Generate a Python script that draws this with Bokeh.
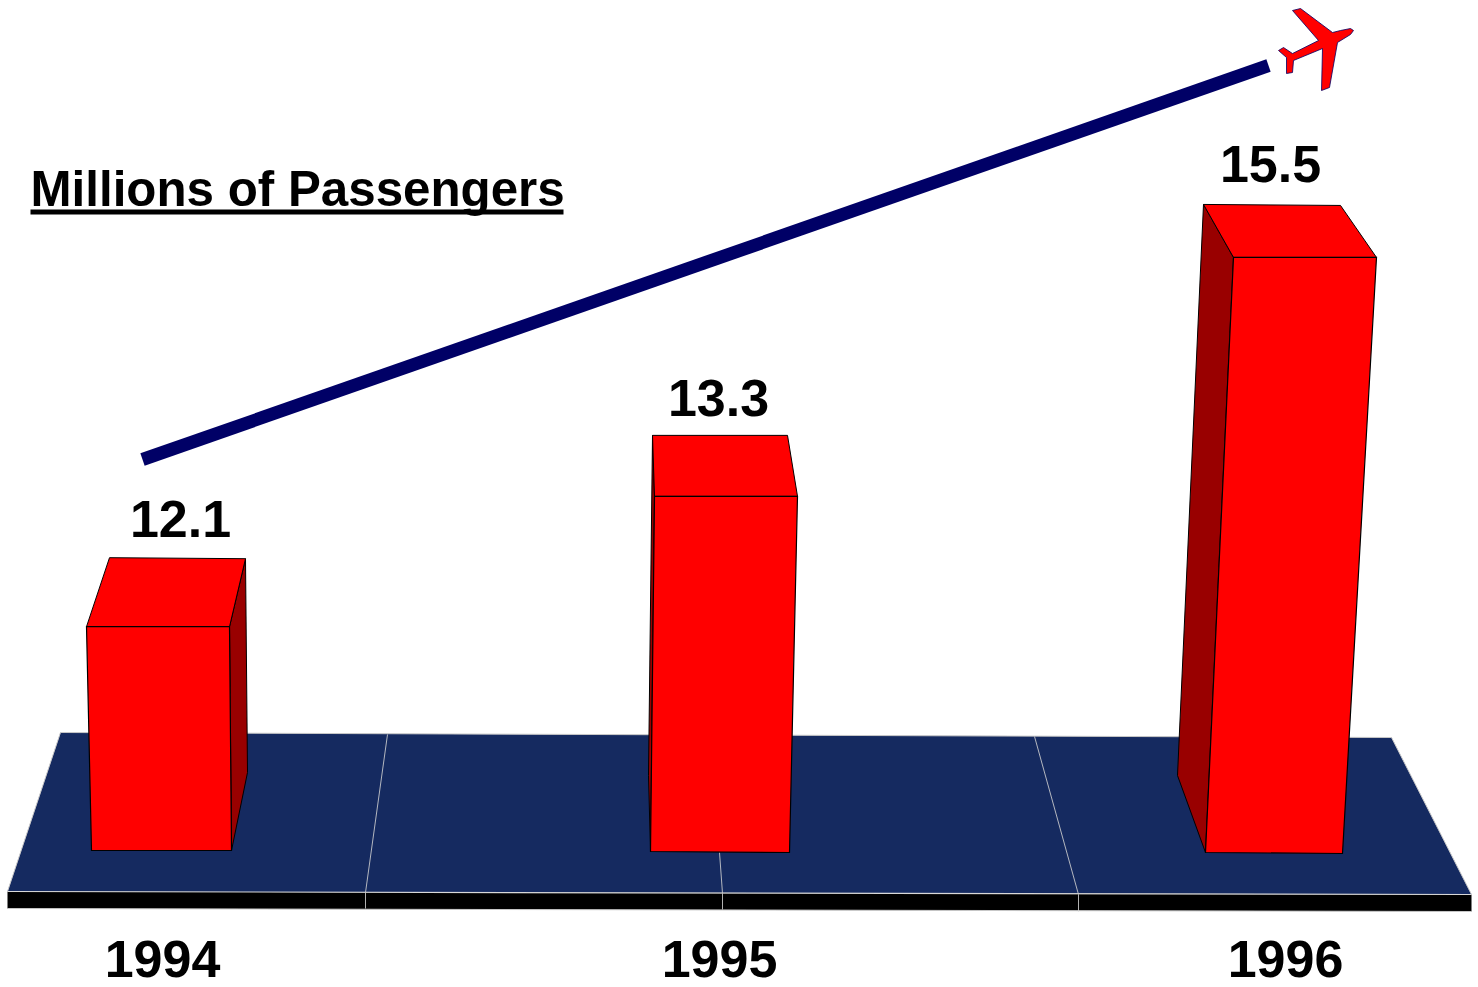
from bokeh.core.properties import value
from bokeh.embed import file_html
from bokeh.models import Range1d
from bokeh.plotting import figure
from bokeh.resources import INLINE

# Passenger totals by year
years = ["1994", "1995", "1996"]
passengers = [12.1, 13.3, 15.5]
title_text = "Millions of Passengers"

WIDTH, HEIGHT = 1478, 987
# Vertical value scale: one million passengers spans PX_PER_UNIT pixels
PX_PER_UNIT = 108.6
VALUE_AT_TOP = 17.866


def val(py):
    """Turn a vertical page offset into the value axis."""
    return VALUE_AT_TOP - py / PX_PER_UNIT


p = figure(
    width=WIDTH, height=HEIGHT, output_backend="svg", toolbar_location=None,
    x_range=Range1d(0, WIDTH),
    y_range=Range1d(val(HEIGHT), VALUE_AT_TOP),
    min_border=0, outline_line_color=None, background_fill_color="white",
    border_fill_color="white",
)
p.axis.visible = False
p.grid.visible = False


def poly(pts, fill, line=None, width=1.0):
    p.patch([a for a, _ in pts], [val(b) for _, b in pts], fill_color=fill,
            line_color=line, line_width=width, line_join="miter")


def seg(pts, color, width=1.0, alpha=1.0):
    p.line([a for a, _ in pts], [val(b) for _, b in pts], line_color=color,
           line_width=width, line_alpha=alpha, line_cap="butt", line_join="miter")


# Floor slab and its front edge
FLOOR = "#152a60"
poly([(60, 732), (1391, 737), (1471, 894), (7, 891)], FLOOR)
poly([(7, 891), (1471, 894), (1471, 911), (7, 908)], "#000000")
seg([(60, 732), (1391, 737)], "#c8c8c8", 1)
seg([(7, 891), (60, 732)], "#c8c8c8", 1)
seg([(1391, 737), (1471, 894)], "#c8c8c8", 1)
seg([(7, 891), (1471, 894)], "#d8d8d8", 1.2)
seg([(7, 908), (1471, 911)], "#c8c8c8", 1)
for div in ([(387, 734), (365, 892), (365, 908)],
            [(719, 852), (722, 893), (722, 909)],
            [(1034, 736), (1078, 894), (1078, 911)]):
    seg(div, "#d0d0d0", 1, 0.85)

# Column geometry: each solid has a front face, a top face and one visible side.
# Front-top corners follow the value; the rest is perspective offset in pixels.
front_x = [(86, 229, 231, 91), (654, 797, 789, 650), (1233, 1376, 1342, 1205)]
front_bottom_px = [(850, 850), (852, 851), (853, 852)]
top_back_x = [(109, 245), (652, 787), (1203, 1340)]
top_rise_px = [(69, 68), (61, 61), (53, 52)]
side_bottom = [(247, 772), (648, 775), (1177, 775)]
RED, SHADE = "#ff0000", "#990000"

for v, fx, fb, tb, rise, sb in zip(passengers, front_x, front_bottom_px,
                                   top_back_x, top_rise_px, side_bottom):
    top_px = (VALUE_AT_TOP - v) * PX_PER_UNIT
    tl, tr, br, bl = (fx[0], top_px), (fx[1], top_px), (fx[2], fb[0]), (fx[3], fb[1])
    back_l, back_r = (tb[0], top_px - rise[0]), (tb[1], top_px - rise[1])
    if sb[0] > fx[1]:
        side = [back_r, sb, br, tr]      # side visible on the right
    else:
        side = [back_l, sb, bl, tl]      # side visible on the left
    poly(side, SHADE, "#000000", 1)
    poly([back_l, back_r, tr, tl], RED, "#000000", 1)
    poly([tl, tr, br, bl], RED, "#000000", 1.2)

# Growth arrow shaft
seg([(142, 459), (1268, 65)], "#000066", 13)

# Aeroplane at the head of the arrow
plane = [(1292, 10), (1300, 8), (1332, 32), (1340, 30), (1350, 28), (1353, 30),
         (1350, 34), (1337, 42), (1329, 87), (1321, 90), (1322, 48), (1293, 60),
         (1292, 72), (1286, 73), (1286, 57), (1278, 50), (1283, 47), (1292, 53),
         (1318, 40)]
poly(plane, RED, "#000066", 0.8)

FONT = value("Liberation Sans")
# Year labels
p.text([162, 719, 1285], [val(958)] * 3, text=years, text_font=FONT,
       text_font_size="52px", text_font_style="bold", text_align="center",
       text_baseline="middle", text_color="#000000")
# Value labels
p.text([180, 718, 1270], [val(518), val(397), val(163)],
       text=[f"{v:.1f}" for v in passengers], text_font=FONT,
       text_font_size="52px", text_font_style="bold", text_align="center",
       text_baseline="middle", text_color="#000000")
# Underlined heading
p.text([30], [val(188)], text=[title_text], text_font=FONT,
       text_font_size="49.3px", text_font_style="bold", text_align="left",
       text_baseline="middle", text_color="#000000")
poly([(30, 209), (563, 209), (563, 214), (30, 214)], "#000000")

open("out.html", "w").write(file_html(p, INLINE))
